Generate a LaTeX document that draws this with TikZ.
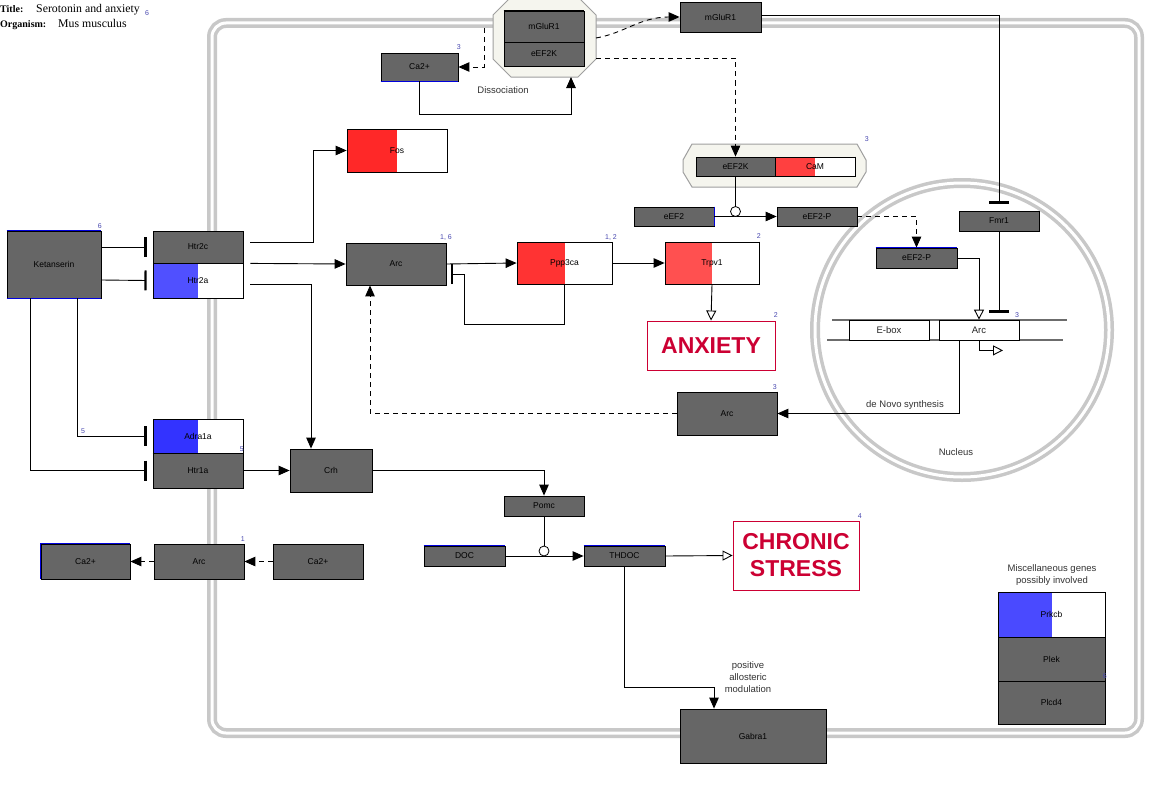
\documentclass[tikz,border=0pt]{standalone}
\usepackage{fontspec}
\setmainfont{Liberation Sans}
\newfontfamily\serifttl{Liberation Serif}
\usetikzlibrary{arrows.meta,calc}
\definecolor{genegray}{HTML}{666666}
\definecolor{lblue}{HTML}{4848B0}
\definecolor{crim}{HTML}{CC0033}
\definecolor{memb}{HTML}{C8C8C8}
\definecolor{cplx}{HTML}{F5F5EE}
\definecolor{redA}{HTML}{FF2828}
\definecolor{redB}{HTML}{FF3333}
\definecolor{redC}{HTML}{FF5050}
\definecolor{redD}{HTML}{FF4040}
\definecolor{blueA}{HTML}{5050FF}
\definecolor{blueB}{HTML}{3333FF}
\definecolor{blueC}{HTML}{4A4AFF}
\definecolor{edgeblue}{HTML}{0000DD}
\newcommand{\genefont}{\fontsize{8.5}{10}\selectfont}
\newcommand{\numfont}{\fontsize{7}{8}\selectfont}
\newcommand{\notefont}{\fontsize{9.5}{12}\selectfont}
\begin{document}
\begin{tikzpicture}[x=1pt,y=-1pt,
  gene/.style={draw=black, line width=0.8pt, fill=genegray, inner sep=0pt, font=\genefont, text=black},
  sz/.style 2 args={minimum width=#1pt, minimum height=#2pt},
  half/.style={fill=white, path picture={\fill[#1] (path picture bounding box.south west) rectangle (path picture bounding box.north);}},
  arr/.style={line width=0.9pt, -{Triangle[length=11pt,width=9.5pt]}},
  darr/.style={arr, dash pattern=on 5pt off 4pt},
  oarr/.style={line width=0.9pt, -{Triangle[open,length=10pt,width=10pt,fill=white]}},
  inh/.style={line width=0.9pt, -{Bar[width=20pt,line width=2.2pt]}},
  num/.style={font=\numfont, text=lblue, inner sep=0pt, anchor=base east},
  numw/.style={num, anchor=base west},
  note/.style={font=\notefont, text=black!80, inner sep=0pt, align=center},
  dnabox/.style={draw=black, line width=0.8pt, fill=white, inner sep=0pt, font=\notefont, text=black!85},
  phen/.style={draw=crim, line width=0.9pt, fill=white, text=crim, font=\fontsize{23}{27}\selectfont\bfseries, align=center, inner sep=0pt},
  catal/.style={circle, draw=black, fill=white, minimum size=10pt, inner sep=0pt, line width=0.8pt},
  membrane/.style={draw=memb, line width=3.5pt, double=white, double distance=3pt}
]
\useasboundingbox (0,0) rectangle (1169,792);
\fill[white] (0,0) rectangle (1169,792);

% title
\node[font=\serifttl\fontsize{10}{12}\selectfont\bfseries, anchor=base west, inner sep=0pt] (ttl) at (0,13) {Title:};
\node[font=\serifttl\fontsize{11.8}{13}\selectfont, anchor=base west, inner sep=0pt] (ttlv) at (36,13) {Serotonin and anxiety};
\node[numw] (ttln) at (145,16) {6};
\node[font=\serifttl\fontsize{10}{12}\selectfont\bfseries, anchor=base west, inner sep=0pt] (org) at (0,28) {Organism:};
\node[font=\serifttl\fontsize{11.8}{13}\selectfont, anchor=base west, inner sep=0pt] (orgv) at (58,28) {Mus musculus};

% cell membrane and nucleus
\draw[membrane, rounded corners=14pt] (212,23) rectangle (1139,733);
\draw[membrane] (962,330) circle (147);
\node[note] (nuclbl) at (956,452) {Nucleus};

% complexes
\filldraw[fill=cplx, draw=gray!75, line width=1pt] (511,-3) -- (578,-3) -- (596,15) -- (596,59) -- (578,77) -- (511,77) -- (493,59) -- (493,15) -- cycle;
\filldraw[fill=cplx, draw=gray!75, line width=1pt] (692,144) -- (857,144) -- (866,160) -- (866,172) -- (857,187) -- (692,187) -- (683,172) -- (683,160) -- cycle;
\coordinate (octL) at (484,28);
\coordinate (octR) at (596,38);
\coordinate (octR2) at (596,58);
\coordinate (octB) at (571,77);

% DNA
\draw[gray!85!black, line width=1.8pt] (832,320) -- (1067,320);
\draw[gray!85!black, line width=1.8pt] (827,340) -- (1063,340);

% genes
\node[gene, sz={80}{31}] (mglur1a) at (544,26.5) {mGluR1};
\node[gene, sz={80}{24}] (eef2ka) at (544,54) {eEF2K};
\node[gene, sz={81}{30}] (mglur1b) at (720.5,17) {mGluR1};
\node[gene, sz={77}{28}] (ca1) at (419.5,67) {Ca2+};
\node[gene, sz={100}{43}, half=redA] (fos) at (397,150.5) {Fos};
\node[gene, sz={79}{19}] (eef2kb) at (735.5,166.5) {eEF2K};
\node[gene, sz={80}{19}, half=redD] (cam) at (815,166.5) {CaM};
\node[gene, sz={80}{19}] (eef2) at (674,216.5) {eEF2};
\node[gene, sz={80}{19}] (eef2p) at (817,216.5) {eEF2-P};
\node[gene, sz={80}{20}] (fmr1) at (999,221) {Fmr1};
\node[gene, sz={81}{20}] (eef2pn) at (916.5,258) {eEF2-P};
\node[dnabox, minimum width=80pt, minimum height=20pt] (ebox) at (889,330) {E-box};
\node[dnabox, minimum width=80pt, minimum height=20pt] (arcn) at (979,330) {Arc};
\node[gene, sz={94}{67}] (ket) at (54,264.5) {Ketanserin};
\node[gene, sz={90}{32}] (htr2c) at (198,247) {Htr2c};
\node[gene, sz={90}{35}, half=blueA] (htr2a) at (198,280.5) {Htr2a};
\node[gene, sz={100}{42}] (arc1) at (396,264) {Arc};
\node[gene, sz={95}{42}, half=redB] (ppp3ca) at (564.5,263) {Ppp3ca};
\node[gene, sz={94}{42}, half=redC] (trpv1) at (712,263) {Trpv1};
\node[phen, minimum width=128pt, minimum height=49pt] (anxiety) at (711,345.5) {ANXIETY};
\node[gene, sz={100}{43}] (arc3) at (727,413.5) {Arc};
\node[gene, sz={90}{34}, half=blueB] (adra1a) at (198,436) {Adra1a};
\node[gene, sz={90}{35}] (htr1a) at (198,470.5) {Htr1a};
\node[gene, sz={82}{43}] (crh) at (331,470.5) {Crh};
\node[gene, sz={80}{20}] (pomc) at (544,506) {Pomc};
\node[gene, sz={89}{35}] (ca2l) at (85.5,561.5) {Ca2+};
\node[gene, sz={90}{35}] (arcb) at (199,561.5) {Arc};
\node[gene, sz={90}{35}] (ca2r) at (318,561.5) {Ca2+};
\node[gene, sz={81}{20}] (doc) at (464.5,556) {DOC};
\node[gene, sz={81}{20}] (thdoc) at (624.5,556) {THDOC};
\node[phen, minimum width=126pt, minimum height=69pt] (chronic) at (796,555.5) {CHRONIC\\STRESS};
\node[gene, sz={146}{54}] (gabra1) at (753,736) {Gabra1};
\node[gene, sz={107}{45}, half=blueC] (prkcb) at (1051.5,614.5) {Prkcb};
\node[gene, sz={107}{44}] (plek) at (1051.5,659) {Plek};
\node[gene, sz={107}{43}] (plcd4) at (1051.5,702.5) {Plcd4};

% thicker right/bottom edges
\draw[line width=1.6pt] (trpv1.north east) -- (trpv1.south east) -- (trpv1.south west);
\draw[line width=1.6pt] (cam.north east) -- (cam.south east);
\draw[line width=1.6pt] (mglur1a.north west) -- (mglur1a.north east);
\draw[line width=1.6pt] (arc3.north east) -- (arc3.south east);
\draw[line width=1.6pt] (htr2a.south west) -- (htr2a.south east);
\draw[line width=1.6pt] (adra1a.south west) -- (adra1a.south east);
\draw[line width=1.6pt] (arcb.south west) -- (arcb.south east);
\draw[line width=1.6pt] (plcd4.south west) -- (plcd4.south east);

% blue edges
\draw[edgeblue, line width=1.3pt] (ket.north west) -- (ket.north east);
\draw[edgeblue, line width=1.3pt] (ket.south west) -- (ket.south east);
\draw[edgeblue, line width=1.3pt] (ca1.south west) -- (ca1.south east);
\draw[edgeblue, line width=1.3pt] (eef2pn.north west) -- (eef2pn.north east);
\draw[edgeblue, line width=1.3pt] (doc.north west) -- (doc.north east);
\draw[edgeblue, line width=1.3pt] (thdoc.north west) -- (thdoc.north east);
\draw[edgeblue, line width=1.3pt] (ca2l.south west) -- (ca2l.north west) -- (ca2l.north east);
\draw[edgeblue, line width=0.8pt] (eef2.north east) -- (eef2.south east);

% notes
\node[note] (dissoc) at (503,90) {Dissociation};
\node[note] (denovo) at (905,405) {de Novo synthesis};
\node[note] (pam) at (748,677) {positive\\allosteric\\modulation};
\node[note] (misc) at (1052,575) {Miscellaneous genes\\possibly involved};

% numbers
\node[num] (n1) at (461,50) {3};
\node[num] (n2) at (869,141) {3};
\node[num] (n3) at (452,239) {1, 6};
\node[num] (n4) at (617,239) {1, 2};
\node[num] (n5) at (761,238) {2};
\node[num] (n6) at (778,317) {2};
\node[num] (n7) at (777,389) {3};
\node[numw] (n8) at (1015,317) {3};
\node[num] (n9) at (102,228) {6};
\node[numw] (n10) at (81,433) {5};
\node[num] (n11) at (244,451) {5};
\node[num] (n12) at (245,541) {1};
\node[num] (n13) at (862,518) {4};
\node[num] (n14) at (1107,678) {6};

% connectors, top area
\draw[inh] ([yshift=2pt]mglur1b.east) -| ($(fmr1.north)+(0,-7)$);
\draw[darr] (octR) .. controls (625,33) and (640,17) .. (mglur1b.west);
\draw[darr] (octL) |- (ca1.east);
\draw[arr] (ca1.south) -- ++(0,33) -| (octB);
\draw[darr] (octR2) -| (eef2kb.north);
\draw[arr] (eef2.east) -- (eef2p.west);
\node[catal] (cat1) at (735.5,211.5) {};
\draw[line width=0.9pt] (eef2kb.south) -- (cat1.north);
\draw[darr] (eef2p.east) -| (eef2pn.north);
\draw[oarr] (eef2pn.east) -| (arcn.north);
\draw[inh] (fmr1.south) -- ($(fmr1.south |- arcn.north)+(0,-7)$);
\draw[oarr] (arcn.south) |- ++(24,10);
\draw[arr] ([xshift=-20pt]arcn.south) |- (arc3.east);
\draw[darr] (arc3.west) -| ([xshift=-26pt]arc1.south);

% middle row
\draw[arr] (arc1.east) -- (ppp3ca.west);
\coordinate (fb) at (451,274);
\draw[inh] (ppp3ca.south) -- ++(0,40) -| (464,274) -- (fb);
\draw[arr] (ppp3ca.east) -- (trpv1.west);
\draw[oarr] (trpv1.south) -- (anxiety.north);

% left
\draw[inh] ([shift={(0,-17.5)}]ket.east) -- ([xshift=-6pt]htr2c.west);
\draw[inh] ([shift={(0,15.5)}]ket.east) -- ([xshift=-6pt]htr2a.west);
\draw[arr] ([shift={(7,-5)}]htr2c.east) -| ([xshift=-33pt]fos.west) -- (fos.west);
\draw[arr] ([xshift=7pt]htr2c.south east) -- (arc1.west);
\draw[arr] ([shift={(7,3.5)}]htr2a.east) -| ([xshift=-20pt]crh.north);
\draw[inh] ([xshift=23pt]ket.south) |- ([xshift=-6pt]adra1a.west);
\draw[inh] ([xshift=-24pt]ket.south) |- ([xshift=-6pt]htr1a.west);
\draw[arr] (htr1a.east) -- (crh.west);
\draw[arr] (crh.east) -| (pomc.north);

% bottom
\draw[arr] (doc.east) -- (thdoc.west);
\node[catal] (cat2) at (544,551) {};
\draw[line width=0.9pt] (pomc.south) -- (cat2.north);
\draw[oarr] (thdoc.east) -- (chronic.west);
\draw[arr] (thdoc.south) -- ++(0,121) -| ([xshift=-39pt]gabra1.north);
\draw[darr] (ca2r.west) -- (arcb.east);
\draw[darr] (arcb.west) -- (ca2l.east);
\end{tikzpicture}
\end{document}
